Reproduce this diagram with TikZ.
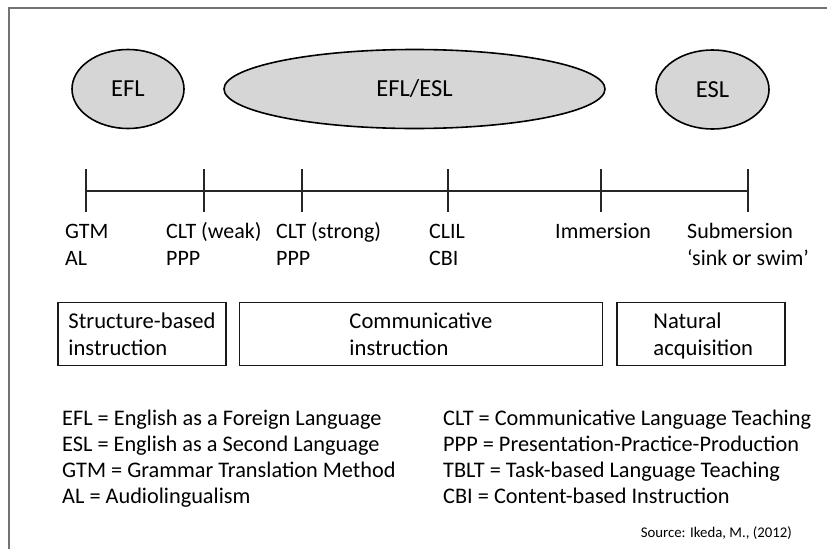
\documentclass[tikz,border=0pt]{standalone}
\usepackage{fontspec}
\setmainfont{Carlito}
\usetikzlibrary{positioning,shapes.geometric}
\tikzset{
    >=stealth,
    blob/.style={
        ellipse,
        draw=black, line width=1.6pt,
        fill=black!16,
        inner sep=0pt,
        minimum height=79pt,
        font=\fontsize{24.5}{28}\selectfont
    },
    scaleline/.style={draw=black!85, line width=1.6pt},
    method/.style={
        anchor=base west,
        align=left,
        inner sep=0pt,
        font=\fontsize{22}{27}\selectfont
    },
    stage/.style={
        rectangle,
        draw=black!90, line width=1.4pt,
        align=left,
        minimum height=63pt,
        inner sep=0pt,
        text depth=0pt,
        font=\fontsize{22.6}{27}\selectfont
    },
    legend/.style={
        anchor=base west,
        align=left,
        inner sep=0pt,
        font=\fontsize{22.3}{25.7}\selectfont
    }
}
\begin{document}
\begin{tikzpicture}[x=1pt, y=-1pt]
    \useasboundingbox (0,0) rectangle (827,549);
    \draw[black!55, line width=2pt] (9,549) -- (9,8) -- (827,8);
    \node[blob, minimum width=112pt] (efl) at (128,89) {EFL};
    \node[blob, minimum width=381pt] (mixed) at (414.5,89) {EFL/ESL};
    \node[blob, minimum width=113pt] (esl) at (712.5,89.5) {ESL};
    \foreach \n/\x in {1/86,2/204,3/302,4/448,5/601,6/748}
        \coordinate (t\n) at (\x,191);
    \draw[scaleline] (t1) -- (t6);
    \foreach \n in {1,...,6}
        \draw[scaleline] ([yshift=22pt]t\n) -- ([yshift=-21pt]t\n);
    % multi-line labels sit on their last baseline
    \node[method] (gtm) at (65,265) {GTM\\AL};
    \node[method] (weak) at (166,265) {CLT (weak)\\PPP};
    \node[method] (strong) at (276,265) {CLT (strong)\\PPP};
    \node[method] (clil) at (429,265) {CLIL\\CBI};
    \node[method] (imm) at (555,238) {Immersion};
    \node[method] (sub) at (687,265) {Submersion\\`sink or swim'};
    \node[stage, minimum width=168pt] (sbi) at (142,334) {Structure-based\\instruction};
    \node[stage, minimum width=363pt, right=12pt of sbi] (ci) {Communicative\\instruction};
    \node[stage, minimum width=168pt, right=13pt of ci] (na) {\hspace*{5pt}Natural\\\hspace*{5pt}acquisition};
    \node[legend] (abbr1) at (62,503) {EFL = English as a Foreign Language\\ESL = English as a Second Language\\GTM = Grammar Translation Method\\AL = Audiolingualism};
    \node[legend] (abbr2) at (443,503) {CLT = Communicative Language Teaching\\PPP = Presentation-Practice-Production\\TBLT = Task-based Language Teaching\\CBI = Content-based Instruction};
    \node[anchor=base east, inner sep=0pt, font=\fontsize{14.8}{17}\selectfont] (src) at (792,537) {Source: Ikeda, M., (2012)};
\end{tikzpicture}
\end{document}
